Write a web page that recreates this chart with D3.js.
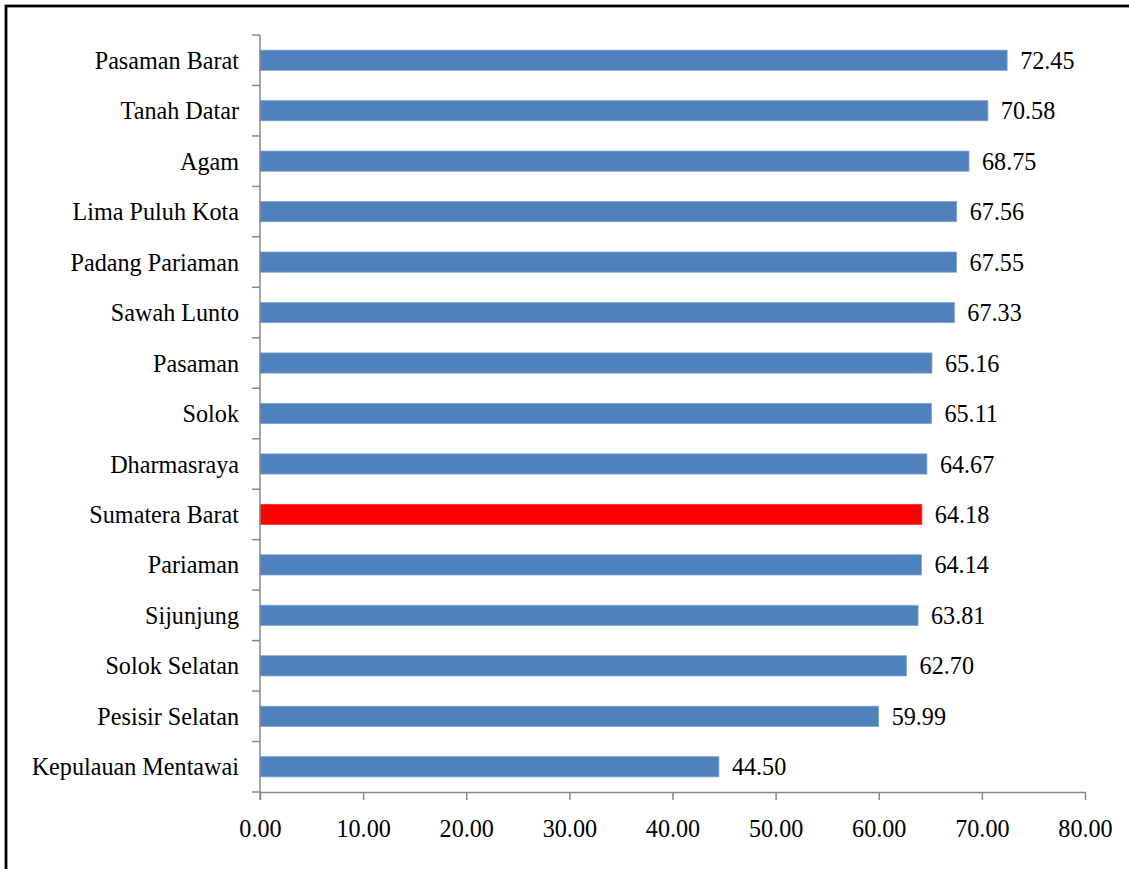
<!DOCTYPE html>
<html>
<head>
<meta charset="utf-8">
<script src="https://cdn.jsdelivr.net/npm/d3@7"></script>
<style>
  body { margin: 0; background: #fff; }
  svg { display: block; }
</style>
</head>
<body>
<div id="chart"></div>
<script>
// data, top to bottom as drawn
var regions = ["Pasaman Barat", "Tanah Datar", "Agam", "Lima Puluh Kota", "Padang Pariaman",
  "Sawah Lunto", "Pasaman", "Solok", "Dharmasraya", "Sumatera Barat", "Pariaman",
  "Sijunjung", "Solok Selatan", "Pesisir Selatan", "Kepulauan Mentawai"];
var values = [72.45, 70.58, 68.75, 67.56, 67.55, 67.33, 65.16, 65.11, 64.67, 64.18,
  64.14, 63.81, 62.70, 59.99, 44.50];
var xTicks = [0, 10, 20, 30, 40, 50, 60, 70, 80];
var highlight = "Sumatera Barat";

var W = 1129, H = 869;
var margin = {top: 35, right: 44, bottom: 77, left: 260};
var width = W - margin.left - margin.right,
    height = H - margin.top - margin.bottom;

var root = d3.select("#chart").append("svg")
  .attr("width", W)
  .attr("height", H);

// outer frame (runs off the right and bottom edges)
root.append("rect")
  .attr("x", 6).attr("y", 6)
  .attr("width", W + 20).attr("height", H + 20)
  .attr("fill", "none")
  .attr("stroke", "#000")
  .attr("stroke-width", 2.8);

var svg = root.append("g")
  .attr("transform", "translate(" + margin.left + "," + margin.top + ")");

var x = d3.scaleLinear().domain([0, 80]).range([0, width]);
var y = d3.scaleBand().domain(regions).range([0, height]).paddingInner(0.6).paddingOuter(0.3);
var step = height / regions.length;

var font = "'Liberation Serif', 'Times New Roman', serif";
var fontSize = "26px", squeeze = 0.93; // glyphs in the original are tall and narrow

// bars
svg.selectAll(".bar")
  .data(regions)
  .enter().append("rect")
    .attr("class", "bar")
    .attr("x", x(0))
    .attr("y", function(d) { return y(d); })
    .attr("width", function(d, i) { return x(values[i]) - x(0); })
    .attr("height", y.bandwidth())
    .attr("fill", function(d) { return d == highlight ? "#ff0000" : "#4f81bd"; })
    .attr("stroke", function(d) { return d == highlight ? "#ff3030" : "#7fa3d2"; })
    .attr("stroke-width", 0.8);

// value labels
svg.selectAll(".val")
  .data(regions)
  .enter().append("text")
    .attr("class", "val")
    .attr("transform", function(d, i) {
      return "translate(" + (x(values[i]) + 13) + "," + (y(d) + y.bandwidth() / 2) + ") scale(" + squeeze + ",1)";
    })
    .attr("dy", "0.33em")
    .style("font-family", font)
    .style("font-size", fontSize)
    .style("fill", "#000")
    .text(function(d, i) { return values[i].toFixed(2); });

// X axis
var xAxis = svg.append("g")
  .attr("transform", "translate(0," + height + ")")
  .call(d3.axisBottom(x).tickValues(xTicks).tickSize(8).tickSizeOuter(0).tickPadding(19)
    .tickFormat(function(d) { return d.toFixed(2); }));
xAxis.select(".domain").attr("stroke", "#888").attr("stroke-width", 1.5);
xAxis.selectAll(".tick line").attr("stroke", "#888").attr("stroke-width", 1.5);
xAxis.selectAll("text")
  .attr("transform", "scale(" + squeeze + ",1)")
  .style("font-family", font)
  .style("font-size", fontSize)
  .style("fill", "#000");

// Y axis: line with ticks between categories
svg.append("line")
  .attr("x1", 0).attr("x2", 0)
  .attr("y1", 0).attr("y2", height + 8)
  .attr("stroke", "#888").attr("stroke-width", 1.5);
svg.selectAll(".ytick")
  .data(d3.range(regions.length + 1))
  .enter().append("line")
    .attr("class", "ytick")
    .attr("x1", -8).attr("x2", 0)
    .attr("y1", function(i) { return i * step; })
    .attr("y2", function(i) { return i * step; })
    .attr("stroke", "#888").attr("stroke-width", 1.5);

// category labels
svg.selectAll(".cat")
  .data(regions)
  .enter().append("text")
    .attr("class", "cat")
    .attr("transform", function(d) {
      return "translate(-21," + (y(d) + y.bandwidth() / 2) + ") scale(" + squeeze + ",1)";
    })
    .attr("dy", "0.33em")
    .attr("text-anchor", "end")
    .style("font-family", font)
    .style("font-size", fontSize)
    .style("fill", "#000")
    .text(function(d) { return d; });
</script>
</body>
</html>
